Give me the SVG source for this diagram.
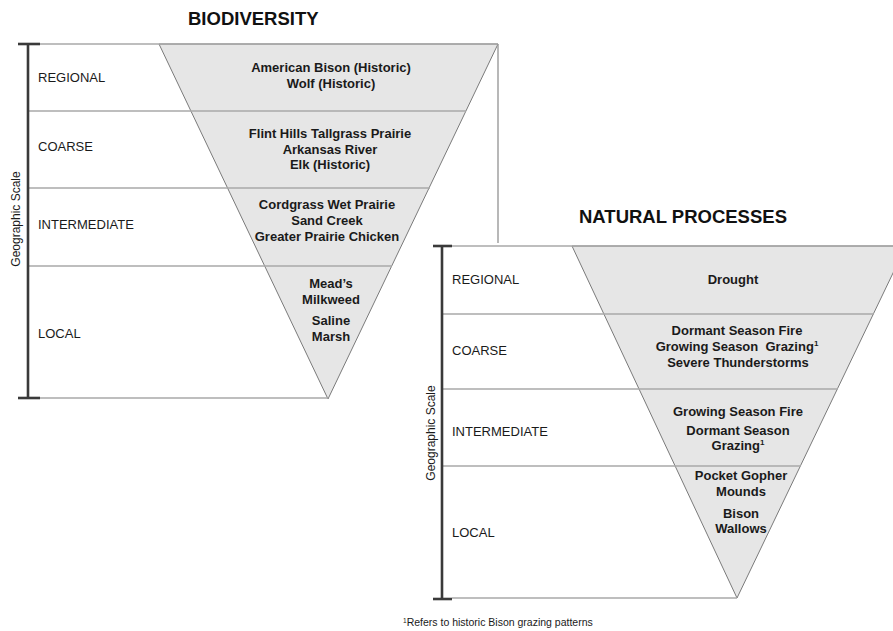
<svg xmlns="http://www.w3.org/2000/svg" width="893" height="631" viewBox="0 0 893 631">
<style>
.bg{fill:#ffffff}
.tri{fill:#e6e6e6;stroke:#7a7a7a;stroke-width:1}
.row{stroke:#a8a8a8;stroke-width:1.6;fill:none}
.bar{stroke:#3a3a3a;stroke-width:2.6;fill:none}
.frame{stroke:#9a9a9a;stroke-width:1.4;fill:none}
.title{font-family:"Liberation Sans",Arial,sans-serif;font-weight:bold;font-size:18.5px;fill:#111}
.lab{font-family:"Liberation Sans",Arial,sans-serif;font-size:13px;fill:#1a1a1a}
.axis{font-family:"Liberation Sans",Arial,sans-serif;font-size:12px;fill:#1a1a1a}
.item{font-family:"Liberation Sans",Arial,sans-serif;font-weight:bold;font-size:13px;fill:#1a1a1a;text-anchor:middle}
.note{font-family:"Liberation Sans",Arial,sans-serif;font-size:10.5px;fill:#1a1a1a}
</style>
<rect class="bg" x="0" y="0" width="893" height="631"/>

<!-- BIODIVERSITY panel -->
<g id="biodiversity">
  <g id="bio-title"><text class="title" x="188" y="25">BIODIVERSITY</text></g>
  <g id="bio-triangle"><polygon class="tri" points="159,44 498,44 328,399"/></g>
  <g id="bio-lines">
    <line class="row" x1="38" y1="44" x2="498" y2="44"/>
    <line class="frame" x1="498" y1="44" x2="498" y2="243"/>
    <line class="row" x1="28" y1="111" x2="466" y2="111"/>
    <line class="row" x1="28" y1="188" x2="430" y2="188"/>
    <line class="row" x1="28" y1="266" x2="392" y2="266"/>
    <line class="row" x1="38" y1="398" x2="328" y2="398"/>
  </g>
  <g id="bio-scale">
    <line class="bar" x1="28" y1="44" x2="28" y2="398"/>
    <line class="bar" x1="18" y1="44" x2="40" y2="44"/>
    <line class="bar" x1="18" y1="398" x2="40" y2="398"/>
    <text class="axis" transform="translate(20,219) rotate(-90)" text-anchor="middle">Geographic Scale</text>
  </g>
  <g id="bio-regional">
    <text class="lab" x="38" y="82">REGIONAL</text>
    <text class="item" x="331" y="72">American Bison (Historic)</text>
    <text class="item" x="331" y="87.5">Wolf (Historic)</text>
  </g>
  <g id="bio-coarse">
    <text class="lab" x="38" y="151">COARSE</text>
    <text class="item" x="330" y="138">Flint Hills Tallgrass Prairie</text>
    <text class="item" x="330" y="153.5">Arkansas River</text>
    <text class="item" x="330" y="169">Elk (Historic)</text>
  </g>
  <g id="bio-intermediate">
    <text class="lab" x="38" y="229">INTERMEDIATE</text>
    <text class="item" x="327" y="209">Cordgrass Wet Prairie</text>
    <text class="item" x="327" y="225">Sand Creek</text>
    <text class="item" x="327" y="240.5">Greater Prairie Chicken</text>
  </g>
  <g id="bio-local">
    <text class="lab" x="38" y="338">LOCAL</text>
    <text class="item" x="331" y="288">Mead’s</text>
    <text class="item" x="331" y="303.5">Milkweed</text>
    <text class="item" x="331" y="325">Saline</text>
    <text class="item" x="331" y="340.5">Marsh</text>
  </g>
</g>

<!-- NATURAL PROCESSES panel -->
<g id="natural-processes">
  <g id="np-title"><text class="title" x="579" y="223">NATURAL PROCESSES</text></g>
  <g id="np-triangle"><polygon class="tri" points="572,246 906,246 737,598"/></g>
  <g id="np-lines">
    <line class="row" x1="452" y1="246" x2="893" y2="246"/>
    <line class="row" x1="442" y1="314" x2="874" y2="314"/>
    <line class="row" x1="442" y1="389" x2="838" y2="389"/>
    <line class="row" x1="442" y1="466" x2="801" y2="466"/>
    <line class="row" x1="452" y1="598" x2="737" y2="598"/>
  </g>
  <g id="np-scale">
    <line class="bar" x1="442" y1="246" x2="442" y2="599"/>
    <line class="bar" x1="433" y1="246" x2="452" y2="246"/>
    <line class="bar" x1="433" y1="599" x2="452" y2="599"/>
    <text class="axis" transform="translate(435,433) rotate(-90)" text-anchor="middle">Geographic Scale</text>
  </g>
  <g id="np-regional">
    <text class="lab" x="452" y="284">REGIONAL</text>
    <text class="item" x="733" y="284">Drought</text>
  </g>
  <g id="np-coarse">
    <text class="lab" x="452" y="355">COARSE</text>
    <text class="item" x="737" y="334.5">Dormant Season Fire</text>
    <text class="item" x="737" y="350.5" xml:space="preserve">Growing Season  Grazing<tspan font-size="8" dy="-5">1</tspan></text>
    <text class="item" x="738" y="366.5">Severe Thunderstorms</text>
  </g>
  <g id="np-intermediate">
    <text class="lab" x="452" y="436">INTERMEDIATE</text>
    <text class="item" x="738" y="415.5">Growing Season Fire</text>
    <text class="item" x="738" y="434.5">Dormant Season</text>
    <text class="item" x="738" y="450">Grazing<tspan font-size="8" dy="-5">1</tspan></text>
  </g>
  <g id="np-local">
    <text class="lab" x="452" y="537">LOCAL</text>
    <text class="item" x="741" y="480">Pocket Gopher</text>
    <text class="item" x="741" y="495.5">Mounds</text>
    <text class="item" x="741" y="517.5">Bison</text>
    <text class="item" x="741" y="533">Wallows</text>
  </g>
</g>

<g id="footnote">
  <text class="note" x="403" y="626"><tspan font-size="6.5" dy="-3">1</tspan><tspan dy="3">Refers to historic Bison grazing patterns</tspan></text>
</g>
</svg>
